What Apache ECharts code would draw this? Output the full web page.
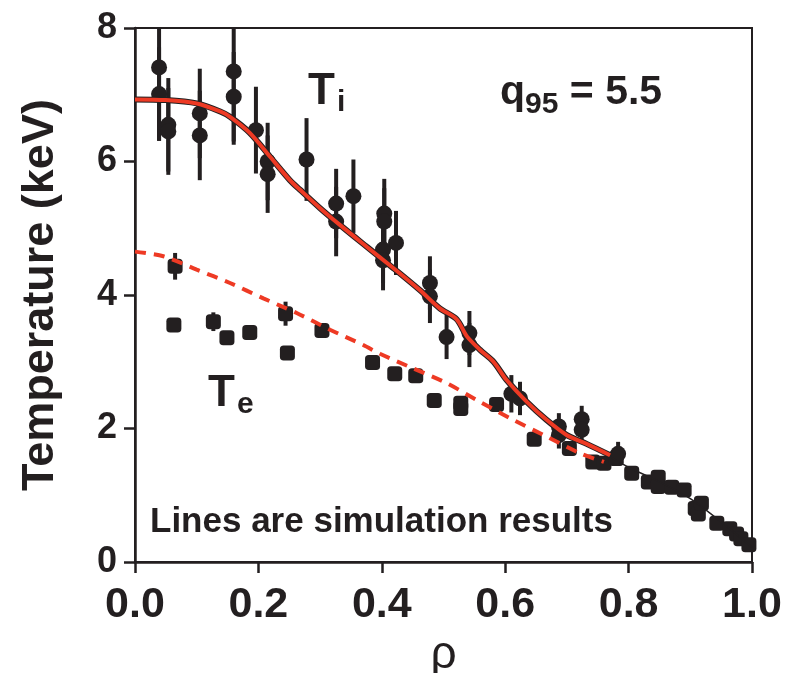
<!DOCTYPE html>
<html><head><meta charset="utf-8">
<script src="https://cdn.jsdelivr.net/npm/echarts@6/dist/echarts.min.js"></script>
<style>html,body{margin:0;padding:0;background:#fff}#c{width:786px;height:673px}</style>
</head><body><div id="c"></div>
<script>
// Ti measurements (circles with error bars)
const tiRho = [0.039,0.039,0.054,0.054,0.105,0.105,0.160,0.160,0.196,0.215,0.215,0.278,0.326,0.326,0.354,0.404,0.404,0.402,0.402,0.423,0.478,0.478,0.505,0.542,0.542,0.610,0.624,0.687,0.687,0.724,0.724,0.783];
const tiVal = [7.41,7.01,6.55,6.45,6.72,6.39,7.35,6.97,6.47,6.00,5.81,6.03,5.37,5.10,5.48,5.22,5.10,4.68,4.52,4.78,4.18,3.98,3.37,3.43,3.25,2.52,2.45,2.03,1.90,2.14,1.98,1.62];
const tiErr = [1.10,0.70,0.70,0.65,0.67,0.67,1.10,0.67,0.65,0.58,0.58,0.62,0.52,0.52,0.55,0.52,0.50,0.50,0.45,0.48,0.40,0.40,0.33,0.33,0.33,0.28,0.25,0.20,0.20,0.20,0.20,0.18];
// Te measurements (squares)
const teRho = [0.065,0.063,0.127,0.149,0.186,0.244,0.247,0.303,0.385,0.421,0.455,0.485,0.528,0.528,0.586,0.647,0.704,0.742,0.760,0.780,0.805,0.832,0.848,0.848,0.870,0.890,0.908,0.913,0.918,0.943,0.964,0.975,0.982,0.995];
const teVal = [4.43,3.55,3.60,3.36,3.44,3.72,3.13,3.47,2.99,2.82,2.79,2.42,2.38,2.30,2.36,1.84,1.70,1.50,1.48,1.55,1.33,1.20,1.27,1.13,1.12,1.08,0.80,0.72,0.88,0.58,0.50,0.42,0.35,0.26];
const teErr = [0.20,0.10,0.14,0,0.05,0.18,0,0.05,0,0,0,0,0,0,0,0,0,0,0,0.10,0,0,0,0,0,0,0,0,0,0,0,0,0,0];
// Simulated Ti (solid red)
const simTiRho = [0,0.05,0.10,0.138,0.154,0.186,0.219,0.251,0.267,0.30,0.332,0.376,0.419,0.462,0.494,0.521,0.538,0.559,0.581,0.602,0.635,0.667,0.70,0.732,0.77];
const simTiVal = [6.93,6.92,6.87,6.75,6.67,6.43,6.07,5.72,5.58,5.30,5.05,4.72,4.40,4.07,3.80,3.64,3.38,3.18,3.00,2.73,2.40,2.13,1.90,1.77,1.60];
// Simulated Te (dashed red)
const simTeRho = [0,0.046,0.10,0.154,0.208,0.262,0.316,0.37,0.397,0.451,0.505,0.559,0.613,0.667,0.721,0.76];
const simTeVal = [4.65,4.58,4.38,4.18,3.95,3.73,3.48,3.25,3.12,2.90,2.68,2.40,2.13,1.88,1.63,1.50];
// Thin black fit continuing to the edge
const fitRho = [0.77,0.80,0.85,0.90,0.95,1.0];
const fitVal = [1.58,1.42,1.20,0.95,0.60,0.22];
const xTicks = [0,0.2,0.4,0.6,0.8,1.0];
const yTicks = [0,2,4,6,8];

const BLK = '#231f20', RED = '#ee3a24';
const FONT = '"Liberation Sans",Arial,sans-serif';
const zip = (a,b) => a.map((v,i)=>[v,b[i]]);
const errData = (r,v,e) => r.map((x,i)=>[x,v[i],v[i]-e[i],v[i]+e[i]]).filter((d,i)=>e[i]>0);
const errBar = (data) => ({
  type:'custom', data, clip:true, z:3,
  renderItem:(p,api)=>{
    const a=api.coord([api.value(0),api.value(2)]), b=api.coord([api.value(0),api.value(3)]);
    return {type:'line', shape:{x1:a[0],y1:a[1],x2:b[0],y2:b[1]}, style:{stroke:BLK,lineWidth:4}};
  }
});

const chart = echarts.init(document.getElementById('c'));
chart.setOption({
  animation:false,
  grid:{left:135,right:34,top:28,bottom:111,containLabel:false,outerBoundsMode:'none',show:true,borderColor:BLK,borderWidth:2,backgroundColor:'transparent'},
  xAxis:{type:'value',min:0,max:1,interval:0.2,
    name:'ρ',nameLocation:'middle',nameGap:62,nameTextStyle:{fontFamily:FONT,fontSize:46,color:BLK},
    axisLine:{lineStyle:{color:BLK,width:2.5}},axisTick:{inside:false,length:11,lineStyle:{color:BLK,width:2.5}},
    splitLine:{show:false},
    axisLabel:{margin:22,fontFamily:FONT,fontWeight:'bold',fontSize:43,color:BLK,formatter:v=>v.toFixed(1)}},
  yAxis:{type:'value',min:0,max:8,interval:2,
    name:'Temperature (keV)',nameLocation:'middle',nameGap:72,nameTextStyle:{fontFamily:FONT,fontWeight:'bold',fontSize:45,color:BLK},
    axisLine:{lineStyle:{color:BLK,width:2.5}},axisTick:{length:11,lineStyle:{color:BLK,width:2.5}},
    splitLine:{show:false},
    axisLabel:{margin:18,fontFamily:FONT,fontWeight:'bold',fontSize:36,color:BLK}},
  series:[
    errBar(errData(tiRho,tiVal,tiErr)),
    errBar(errData(teRho,teVal,teErr)),
    {type:'scatter',data:zip(tiRho,tiVal),symbol:'circle',symbolSize:16,itemStyle:{color:BLK,opacity:1},z:4},
    {type:'scatter',data:zip(teRho,teVal),symbol:'roundRect',symbolSize:[15,15],itemStyle:{color:BLK,opacity:1},z:4},
    {type:'line',data:zip(simTiRho,simTiVal),smooth:0.3,showSymbol:false,lineStyle:{color:BLK,width:6},z:5},
    {type:'line',data:zip(simTiRho,simTiVal),smooth:0.3,showSymbol:false,lineStyle:{color:RED,width:4},z:6},
    {type:'line',data:zip(fitRho,fitVal),smooth:0.3,showSymbol:false,lineStyle:{color:BLK,width:1.5},z:5},
    {type:'line',data:zip(simTeRho,simTeVal),smooth:0.3,showSymbol:false,lineStyle:{color:RED,width:4,type:[11,8]},z:6}
  ],
  graphic:[
    {type:'text',left:308,top:70,style:{text:'{a|T}{b|i}',rich:{a:{fontFamily:FONT,fontWeight:'bold',fontSize:44,fill:BLK},b:{fontFamily:FONT,fontWeight:'bold',fontSize:30,fill:BLK,padding:[22,0,0,2]}}}},
    {type:'text',left:500,top:72,style:{text:'{a|q}{b|95}{a| = 5.5}',rich:{a:{fontFamily:FONT,fontWeight:'bold',fontSize:41,fill:BLK},b:{fontFamily:FONT,fontWeight:'bold',fontSize:30,fill:BLK,padding:[24,0,0,0]}}}},
    {type:'text',left:208,top:372,style:{text:'{a|T}{b|e}',rich:{a:{fontFamily:FONT,fontWeight:'bold',fontSize:44,fill:BLK},b:{fontFamily:FONT,fontWeight:'bold',fontSize:30,fill:BLK,padding:[22,0,0,2]}}}},
    {type:'text',left:150,top:505,style:{text:'Lines are simulation results',fontFamily:FONT,fontWeight:'bold',fontSize:35,fill:BLK}}
  ]
});
</script></body></html>
